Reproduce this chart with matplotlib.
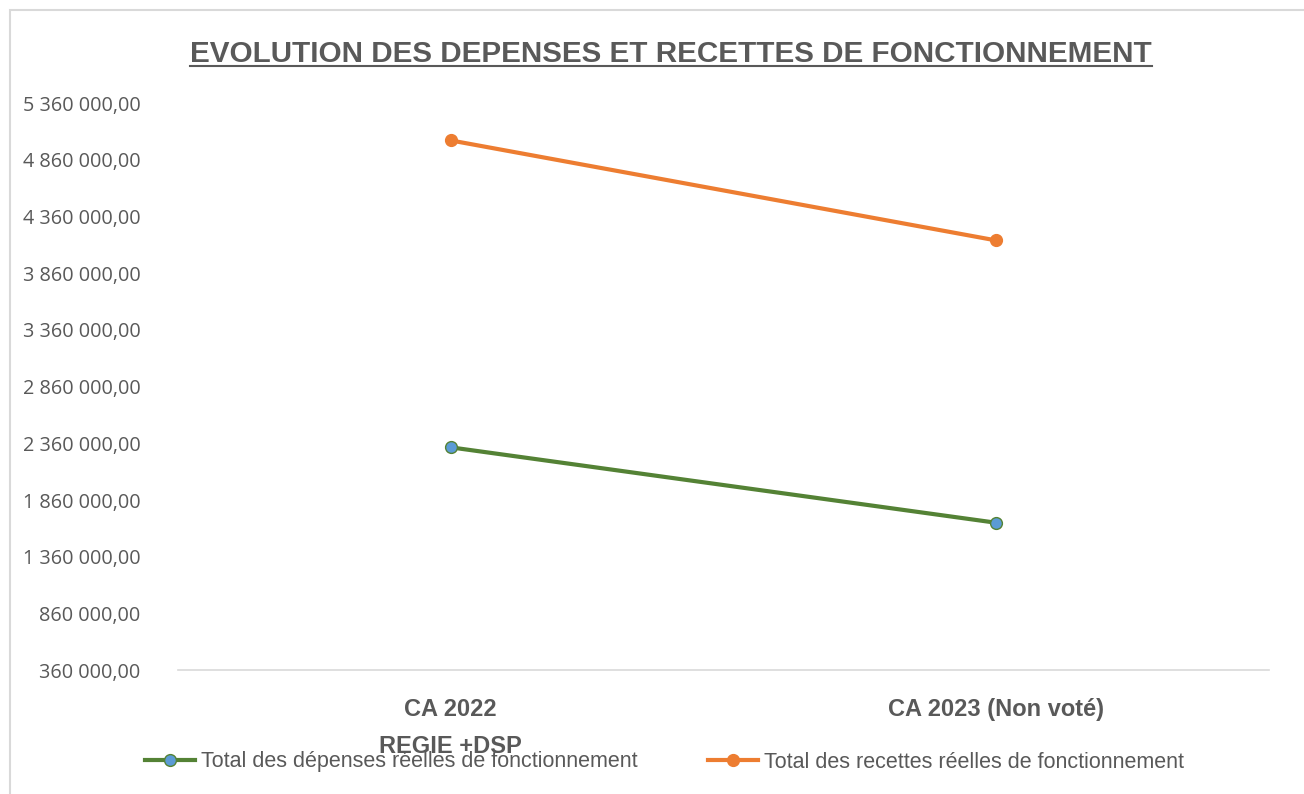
import matplotlib.pyplot as plt
from matplotlib.lines import Line2D
from matplotlib.patches import Rectangle
from matplotlib.ticker import FuncFormatter

categories = ['CA 2022\nREGIE +DSP', 'CA 2023 (Non voté)']
depenses = [2325000, 1660000]
recettes = [5032000, 4150000]
yticks = [360000 + 500000 * i for i in range(11)]

sans = ['Liberation Sans', 'DejaVu Sans']
grey = '#595959'
green = '#548235'
blue = '#5B9BD5'
orange = '#ED7D31'


def fr_fmt(v, pos):
    s = '{:,.2f}'.format(v)
    return s.replace(',', ' ').replace('.', ',')


fig = plt.figure(figsize=(13.04, 7.94), dpi=100)
fig.patches.append(Rectangle((10 / 1304, -0.1), 1.2, 1 - 10 / 794 + 0.1,
                             transform=fig.transFigure, fill=False,
                             edgecolor='#d9d9d9', linewidth=1.5))
ax = fig.add_axes([0.1365, 0.156, 0.8365, 0.714])

x = range(len(categories))
ax.plot(x, depenses, color=green, lw=3, marker='o', ms=8.5,
        mfc=blue, mec=green, mew=1, label='Total des dépenses réelles de fonctionnement')
ax.plot(x, recettes, color=orange, lw=3, marker='o', ms=8.5,
        mfc=orange, mec=orange, label='Total des recettes réelles de fonctionnement')

ax.set_xlim(-0.5, 1.5)
ax.set_ylim(yticks[0], yticks[-1])
ax.set_yticks(yticks)
ax.yaxis.set_major_formatter(FuncFormatter(fr_fmt))
ax.set_xticks(list(x))
ax.set_xticklabels(categories, fontsize=17, fontweight='bold', color=grey,
                   family=sans, linespacing=1.8, va='top')
ax.tick_params(axis='x', length=0, pad=20)
ax.tick_params(axis='y', length=0, pad=27, labelsize=14.3, labelcolor=grey)
for lab in ax.get_yticklabels():
    lab.set_family(['Open Sans', 'DejaVu Sans'])

for s in ['top', 'right', 'left']:
    ax.spines[s].set_visible(False)
ax.spines['bottom'].set_color('#d9d9d9')
ax.spines['bottom'].set_linewidth(1.2)

title = fig.text(671 / 1304, 0.932, 'EVOLUTION DES DEPENSES ET RECETTES DE FONCTIONNEMENT',
                 ha='center', va='center', fontsize=21.3, fontweight='bold',
                 color=grey, family=sans)
fig.canvas.draw()
bb = title.get_window_extent().transformed(fig.transFigure.inverted())
fig.add_artist(Line2D([bb.x0, bb.x1], [bb.y0 + 0.002, bb.y0 + 0.002],
                      transform=fig.transFigure, color=grey, lw=1.5))

leg = ax.legend(loc='center left', bbox_to_anchor=(126 / 1304, 32 / 794),
                bbox_transform=fig.transFigure, ncol=2, frameon=False,
                handlelength=2.32, handletextpad=0.25, columnspacing=3.3,
                prop={'family': sans, 'size': 15.5})
for t in leg.get_texts():
    t.set_color(grey)

fig.savefig('out.png', dpi=100)
